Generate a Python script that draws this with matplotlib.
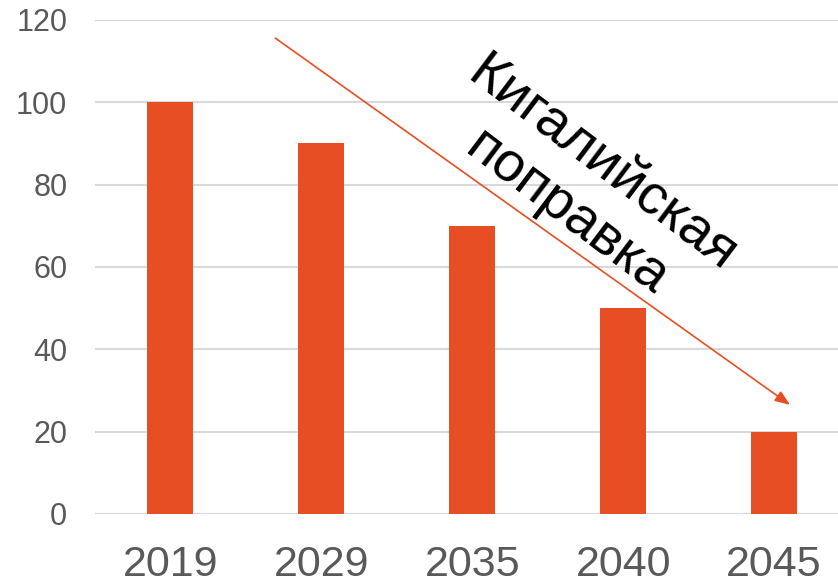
import matplotlib.pyplot as plt

years = ['2019', '2029', '2035', '2040', '2045']
values = [100, 90, 70, 50, 20]
yticks = [0, 20, 40, 60, 80, 100, 120]

bar_color = '#E84E23'
grid_color = '#D9D9D9'
tick_color = '#595959'

plt.rcParams['font.family'] = ['Liberation Sans', 'DejaVu Sans']

fig = plt.figure(figsize=(8.38, 5.83), dpi=100)
ax = fig.add_axes([0.1134, 0.1184, 0.9003, 0.8473])

x = range(len(years))
ax.bar(x, values, width=0.305, color=bar_color, zorder=3)

ax.set_xlim(-0.5, 4.5)
ax.set_ylim(0, 120)
ax.set_yticks(yticks)
ax.set_xticks(list(x))
ax.set_xticklabels(years)
ax.yaxis.grid(True, color=grid_color, linewidth=1.5, zorder=0)
ax.set_axisbelow(True)
for s in ax.spines.values():
    s.set_visible(False)
ax.tick_params(axis='y', length=0, pad=20, labelsize=22, labelcolor=tick_color)
ax.tick_params(axis='x', length=0, pad=22, labelsize=31, labelcolor=tick_color)

# стрелка тренда
ax.annotate('', xy=(4.106, 26.5), xytext=(0.695, 115.6),
            arrowprops=dict(arrowstyle='-|>,head_length=0.9,head_width=0.35',
                            color=bar_color, lw=1.2, shrinkA=0, shrinkB=0),
            zorder=4)

ax.text(2.74, 79, 'Кигалийская\nпоправка', rotation=-37, rotation_mode='anchor',
        ha='center', va='center', multialignment='center',
        fontsize=40, color='black', zorder=5)

fig.savefig('out.png', dpi=100)
